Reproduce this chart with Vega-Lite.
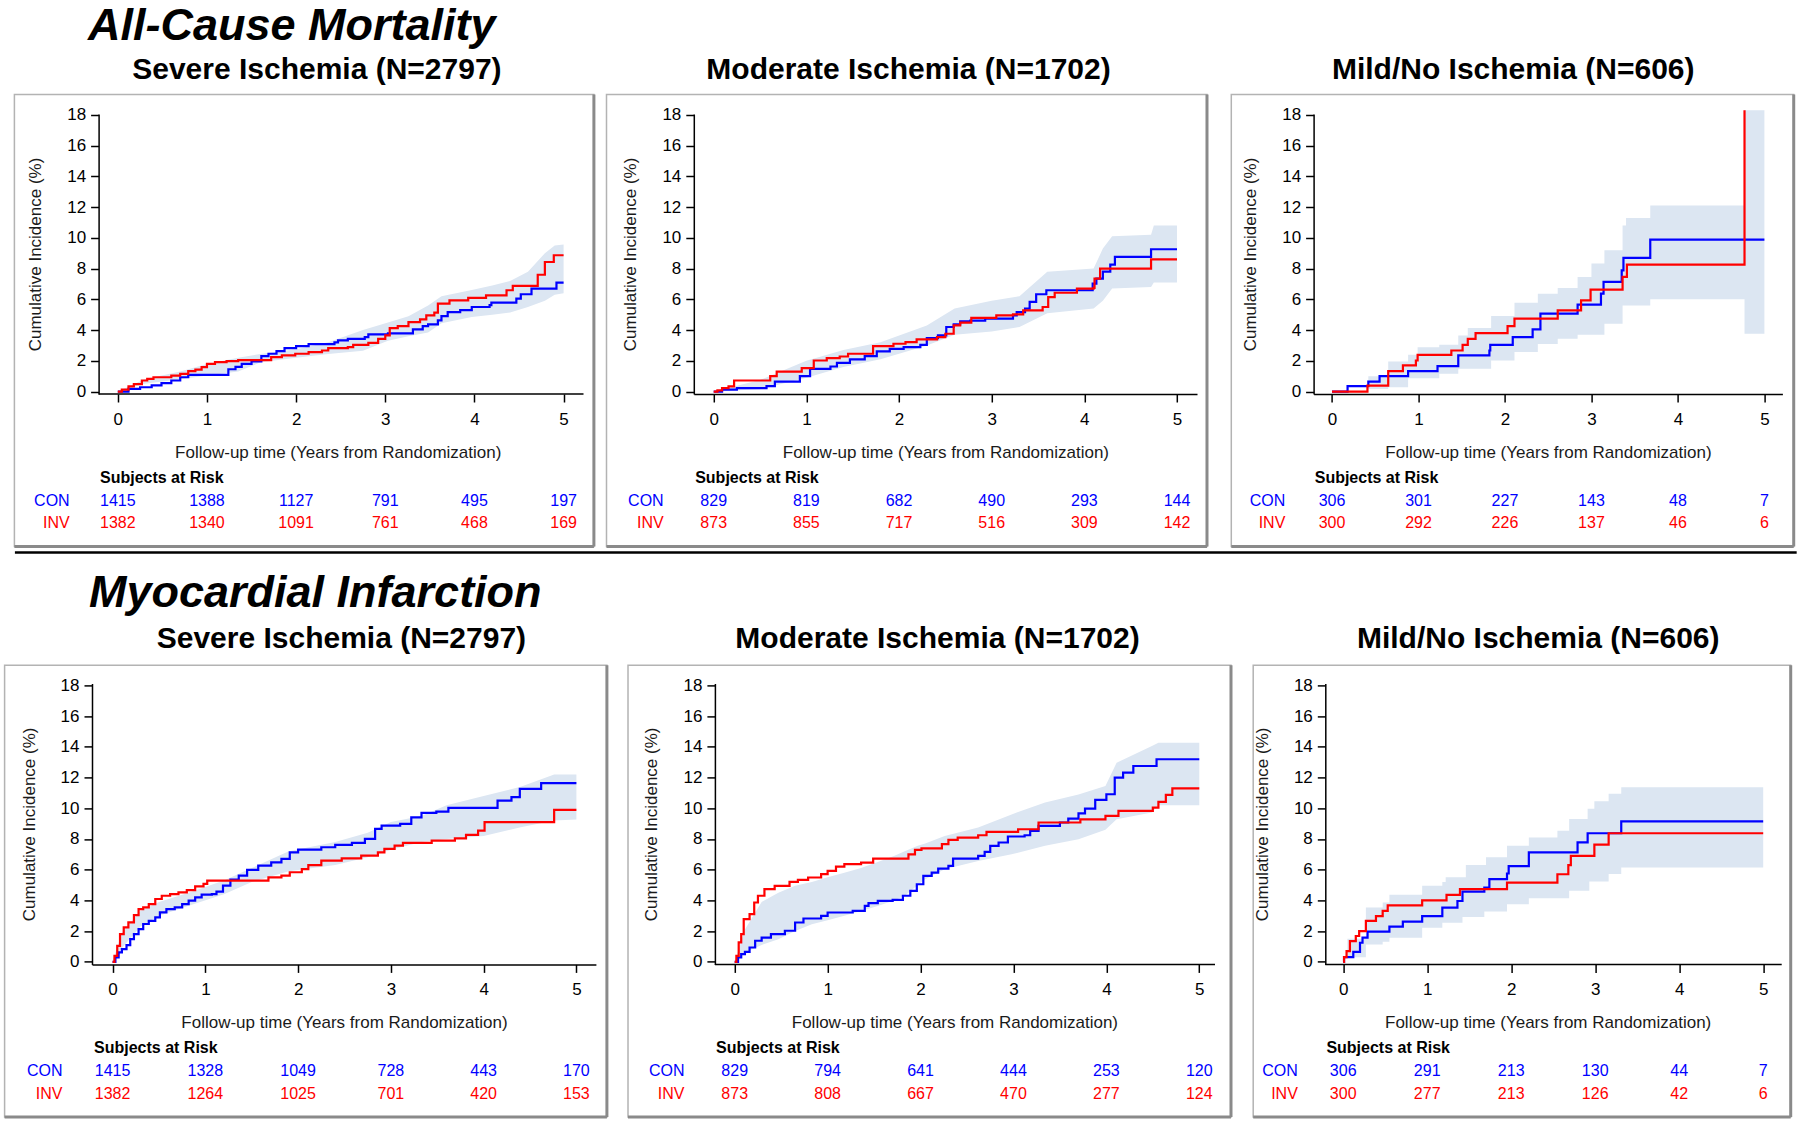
{
"$schema": "https://vega.github.io/schema/vega-lite/v6.json",
"background": "white",
"padding": {"left": 3, "top": 4, "right": 0, "bottom": 0},
"config": {
  "font": "Liberation Sans",
  "view": {"stroke": null},
  "axis": {"labelFont": "Liberation Sans", "labelFontSize": 17, "labelColor": "#000", "titleFont": "Liberation Sans", "titleFontSize": 17, "titleFontWeight": "normal", "titleColor": "#1a1a1a", "domainColor": "#000", "domainWidth": 1.5, "tickColor": "#000", "tickWidth": 1.5, "tickSize": 8, "grid": false, "labelFlush": false, "labelOverlap": false},
  "title": {"font": "Liberation Sans"},
  "text": {"font": "Liberation Sans"}
},
"datasets": {
"km": [
{"p":"A1","arm":"CON","t":0,"v":0},{"p":"A1","arm":"CON","t":0.12,"v":0.17},{"p":"A1","arm":"CON","t":0.25,"v":0.28},{"p":"A1","arm":"CON","t":0.38,"v":0.4},{"p":"A1","arm":"CON","t":0.49,"v":0.55},{"p":"A1","arm":"CON","t":0.6,"v":0.72},{"p":"A1","arm":"CON","t":0.7,"v":0.93},{"p":"A1","arm":"CON","t":0.79,"v":1.09},{"p":"A1","arm":"CON","t":1.24,"v":1.45},{"p":"A1","arm":"CON","t":1.32,"v":1.6},{"p":"A1","arm":"CON","t":1.39,"v":1.8},{"p":"A1","arm":"CON","t":1.5,"v":1.96},{"p":"A1","arm":"CON","t":1.61,"v":2.3},{"p":"A1","arm":"CON","t":1.69,"v":2.46},{"p":"A1","arm":"CON","t":1.78,"v":2.63},{"p":"A1","arm":"CON","t":1.87,"v":2.83},{"p":"A1","arm":"CON","t":2.0,"v":2.96},{"p":"A1","arm":"CON","t":2.14,"v":3.09},{"p":"A1","arm":"CON","t":2.43,"v":3.2},{"p":"A1","arm":"CON","t":2.47,"v":3.33},{"p":"A1","arm":"CON","t":2.58,"v":3.43},{"p":"A1","arm":"CON","t":2.77,"v":3.54},{"p":"A1","arm":"CON","t":2.81,"v":3.72},{"p":"A1","arm":"CON","t":3.03,"v":3.78},{"p":"A1","arm":"CON","t":3.31,"v":4.04},{"p":"A1","arm":"CON","t":3.42,"v":4.26},{"p":"A1","arm":"CON","t":3.48,"v":4.37},{"p":"A1","arm":"CON","t":3.59,"v":4.63},{"p":"A1","arm":"CON","t":3.63,"v":4.91},{"p":"A1","arm":"CON","t":3.7,"v":5.17},{"p":"A1","arm":"CON","t":3.84,"v":5.3},{"p":"A1","arm":"CON","t":3.97,"v":5.5},{"p":"A1","arm":"CON","t":4.17,"v":5.62},{"p":"A1","arm":"CON","t":4.19,"v":5.78},{"p":"A1","arm":"CON","t":4.47,"v":6.04},{"p":"A1","arm":"CON","t":4.52,"v":6.33},{"p":"A1","arm":"CON","t":4.64,"v":6.7},{"p":"A1","arm":"CON","t":4.92,"v":7.09},{"p":"A1","arm":"CON","t":5.0,"v":7.09},
{"p":"A1","arm":"INV","t":0,"v":0},{"p":"A1","arm":"INV","t":0.045,"v":0.13},{"p":"A1","arm":"INV","t":0.12,"v":0.33},{"p":"A1","arm":"INV","t":0.18,"v":0.48},{"p":"A1","arm":"INV","t":0.27,"v":0.72},{"p":"A1","arm":"INV","t":0.33,"v":0.83},{"p":"A1","arm":"INV","t":0.4,"v":0.93},{"p":"A1","arm":"INV","t":0.6,"v":1.04},{"p":"A1","arm":"INV","t":0.7,"v":1.15},{"p":"A1","arm":"INV","t":0.79,"v":1.33},{"p":"A1","arm":"INV","t":0.87,"v":1.43},{"p":"A1","arm":"INV","t":0.94,"v":1.59},{"p":"A1","arm":"INV","t":1.0,"v":1.8},{"p":"A1","arm":"INV","t":1.09,"v":1.91},{"p":"A1","arm":"INV","t":1.22,"v":1.98},{"p":"A1","arm":"INV","t":1.35,"v":2.05},{"p":"A1","arm":"INV","t":1.72,"v":2.24},{"p":"A1","arm":"INV","t":1.84,"v":2.35},{"p":"A1","arm":"INV","t":1.99,"v":2.46},{"p":"A1","arm":"INV","t":2.14,"v":2.57},{"p":"A1","arm":"INV","t":2.29,"v":2.67},{"p":"A1","arm":"INV","t":2.36,"v":2.83},{"p":"A1","arm":"INV","t":2.58,"v":2.89},{"p":"A1","arm":"INV","t":2.64,"v":3.04},{"p":"A1","arm":"INV","t":2.81,"v":3.17},{"p":"A1","arm":"INV","t":2.92,"v":3.43},{"p":"A1","arm":"INV","t":3.0,"v":3.65},{"p":"A1","arm":"INV","t":3.05,"v":4.13},{"p":"A1","arm":"INV","t":3.14,"v":4.26},{"p":"A1","arm":"INV","t":3.26,"v":4.52},{"p":"A1","arm":"INV","t":3.39,"v":4.7},{"p":"A1","arm":"INV","t":3.46,"v":4.96},{"p":"A1","arm":"INV","t":3.55,"v":5.13},{"p":"A1","arm":"INV","t":3.59,"v":5.72},{"p":"A1","arm":"INV","t":3.72,"v":5.93},{"p":"A1","arm":"INV","t":3.93,"v":6.09},{"p":"A1","arm":"INV","t":4.13,"v":6.26},{"p":"A1","arm":"INV","t":4.36,"v":6.59},{"p":"A1","arm":"INV","t":4.43,"v":6.87},{"p":"A1","arm":"INV","t":4.71,"v":7.6},{"p":"A1","arm":"INV","t":4.79,"v":8.43},{"p":"A1","arm":"INV","t":4.89,"v":8.87},{"p":"A1","arm":"INV","t":5.0,"v":8.87},
{"p":"A2","arm":"CON","t":0,"v":0},{"p":"A2","arm":"CON","t":0.09,"v":0.13},{"p":"A2","arm":"CON","t":0.25,"v":0.22},{"p":"A2","arm":"CON","t":0.57,"v":0.35},{"p":"A2","arm":"CON","t":0.66,"v":0.65},{"p":"A2","arm":"CON","t":0.93,"v":1.0},{"p":"A2","arm":"CON","t":1.04,"v":1.48},{"p":"A2","arm":"CON","t":1.26,"v":1.63},{"p":"A2","arm":"CON","t":1.33,"v":1.87},{"p":"A2","arm":"CON","t":1.47,"v":2.09},{"p":"A2","arm":"CON","t":1.63,"v":2.3},{"p":"A2","arm":"CON","t":1.76,"v":2.61},{"p":"A2","arm":"CON","t":1.9,"v":2.78},{"p":"A2","arm":"CON","t":2.05,"v":2.89},{"p":"A2","arm":"CON","t":2.23,"v":3.04},{"p":"A2","arm":"CON","t":2.3,"v":3.48},{"p":"A2","arm":"CON","t":2.42,"v":3.65},{"p":"A2","arm":"CON","t":2.51,"v":4.2},{"p":"A2","arm":"CON","t":2.59,"v":4.37},{"p":"A2","arm":"CON","t":2.66,"v":4.57},{"p":"A2","arm":"CON","t":2.77,"v":4.61},{"p":"A2","arm":"CON","t":2.93,"v":4.74},{"p":"A2","arm":"CON","t":3.23,"v":4.96},{"p":"A2","arm":"CON","t":3.27,"v":5.17},{"p":"A2","arm":"CON","t":3.36,"v":5.39},{"p":"A2","arm":"CON","t":3.41,"v":5.83},{"p":"A2","arm":"CON","t":3.48,"v":6.33},{"p":"A2","arm":"CON","t":3.59,"v":6.59},{"p":"A2","arm":"CON","t":4.09,"v":7.02},{"p":"A2","arm":"CON","t":4.13,"v":7.35},{"p":"A2","arm":"CON","t":4.2,"v":7.8},{"p":"A2","arm":"CON","t":4.28,"v":8.26},{"p":"A2","arm":"CON","t":4.33,"v":8.76},{"p":"A2","arm":"CON","t":4.72,"v":9.26},{"p":"A2","arm":"CON","t":5.0,"v":9.26},
{"p":"A2","arm":"INV","t":0,"v":0},{"p":"A2","arm":"INV","t":0.04,"v":0.07},{"p":"A2","arm":"INV","t":0.09,"v":0.22},{"p":"A2","arm":"INV","t":0.16,"v":0.33},{"p":"A2","arm":"INV","t":0.22,"v":0.72},{"p":"A2","arm":"INV","t":0.61,"v":1.0},{"p":"A2","arm":"INV","t":0.68,"v":1.3},{"p":"A2","arm":"INV","t":0.95,"v":1.52},{"p":"A2","arm":"INV","t":1.08,"v":2.02},{"p":"A2","arm":"INV","t":1.22,"v":2.17},{"p":"A2","arm":"INV","t":1.36,"v":2.28},{"p":"A2","arm":"INV","t":1.45,"v":2.46},{"p":"A2","arm":"INV","t":1.72,"v":2.96},{"p":"A2","arm":"INV","t":1.94,"v":3.11},{"p":"A2","arm":"INV","t":2.07,"v":3.22},{"p":"A2","arm":"INV","t":2.19,"v":3.39},{"p":"A2","arm":"INV","t":2.41,"v":3.54},{"p":"A2","arm":"INV","t":2.5,"v":3.76},{"p":"A2","arm":"INV","t":2.59,"v":4.3},{"p":"A2","arm":"INV","t":2.66,"v":4.48},{"p":"A2","arm":"INV","t":2.78,"v":4.8},{"p":"A2","arm":"INV","t":3.05,"v":4.96},{"p":"A2","arm":"INV","t":3.23,"v":5.02},{"p":"A2","arm":"INV","t":3.34,"v":5.28},{"p":"A2","arm":"INV","t":3.55,"v":5.5},{"p":"A2","arm":"INV","t":3.61,"v":6.15},{"p":"A2","arm":"INV","t":3.68,"v":6.43},{"p":"A2","arm":"INV","t":3.92,"v":6.7},{"p":"A2","arm":"INV","t":4.1,"v":6.74},{"p":"A2","arm":"INV","t":4.11,"v":7.35},{"p":"A2","arm":"INV","t":4.17,"v":8.0},{"p":"A2","arm":"INV","t":4.72,"v":8.6},{"p":"A2","arm":"INV","t":5.0,"v":8.6},
{"p":"A3","arm":"CON","t":0,"v":0},{"p":"A3","arm":"CON","t":0.18,"v":0.35},{"p":"A3","arm":"CON","t":0.42,"v":0.65},{"p":"A3","arm":"CON","t":0.55,"v":1.0},{"p":"A3","arm":"CON","t":0.88,"v":1.33},{"p":"A3","arm":"CON","t":1.22,"v":1.65},{"p":"A3","arm":"CON","t":1.46,"v":2.35},{"p":"A3","arm":"CON","t":1.82,"v":2.67},{"p":"A3","arm":"CON","t":1.83,"v":3.04},{"p":"A3","arm":"CON","t":2.09,"v":3.54},{"p":"A3","arm":"CON","t":2.32,"v":4.04},{"p":"A3","arm":"CON","t":2.41,"v":5.07},{"p":"A3","arm":"CON","t":2.84,"v":5.65},{"p":"A3","arm":"CON","t":3.11,"v":6.37},{"p":"A3","arm":"CON","t":3.14,"v":7.13},{"p":"A3","arm":"CON","t":3.35,"v":7.89},{"p":"A3","arm":"CON","t":3.37,"v":8.7},{"p":"A3","arm":"CON","t":3.68,"v":9.89},{"p":"A3","arm":"CON","t":5.0,"v":9.89},
{"p":"A3","arm":"INV","t":0,"v":0},{"p":"A3","arm":"INV","t":0.41,"v":0.39},{"p":"A3","arm":"INV","t":0.65,"v":1.33},{"p":"A3","arm":"INV","t":0.82,"v":1.7},{"p":"A3","arm":"INV","t":0.97,"v":2.02},{"p":"A3","arm":"INV","t":0.99,"v":2.39},{"p":"A3","arm":"INV","t":1.38,"v":2.67},{"p":"A3","arm":"INV","t":1.51,"v":3.04},{"p":"A3","arm":"INV","t":1.57,"v":3.43},{"p":"A3","arm":"INV","t":1.66,"v":3.8},{"p":"A3","arm":"INV","t":2.03,"v":4.26},{"p":"A3","arm":"INV","t":2.11,"v":4.74},{"p":"A3","arm":"INV","t":2.61,"v":5.28},{"p":"A3","arm":"INV","t":2.88,"v":5.93},{"p":"A3","arm":"INV","t":2.99,"v":6.63},{"p":"A3","arm":"INV","t":3.36,"v":7.46},{"p":"A3","arm":"INV","t":3.41,"v":8.26},{"p":"A3","arm":"INV","t":4.77,"v":18.3},
{"p":"B1","arm":"CON","t":0,"v":0},{"p":"B1","arm":"CON","t":0.03,"v":0.28},{"p":"B1","arm":"CON","t":0.065,"v":0.61},{"p":"B1","arm":"CON","t":0.1,"v":0.83},{"p":"B1","arm":"CON","t":0.15,"v":1.09},{"p":"B1","arm":"CON","t":0.19,"v":1.48},{"p":"B1","arm":"CON","t":0.23,"v":1.8},{"p":"B1","arm":"CON","t":0.28,"v":2.13},{"p":"B1","arm":"CON","t":0.33,"v":2.46},{"p":"B1","arm":"CON","t":0.39,"v":2.67},{"p":"B1","arm":"CON","t":0.46,"v":2.89},{"p":"B1","arm":"CON","t":0.51,"v":3.22},{"p":"B1","arm":"CON","t":0.58,"v":3.43},{"p":"B1","arm":"CON","t":0.67,"v":3.54},{"p":"B1","arm":"CON","t":0.75,"v":3.76},{"p":"B1","arm":"CON","t":0.82,"v":3.98},{"p":"B1","arm":"CON","t":0.89,"v":4.2},{"p":"B1","arm":"CON","t":0.96,"v":4.37},{"p":"B1","arm":"CON","t":1.07,"v":4.41},{"p":"B1","arm":"CON","t":1.12,"v":4.57},{"p":"B1","arm":"CON","t":1.19,"v":4.96},{"p":"B1","arm":"CON","t":1.27,"v":5.35},{"p":"B1","arm":"CON","t":1.36,"v":5.61},{"p":"B1","arm":"CON","t":1.45,"v":5.98},{"p":"B1","arm":"CON","t":1.57,"v":6.26},{"p":"B1","arm":"CON","t":1.71,"v":6.48},{"p":"B1","arm":"CON","t":1.82,"v":6.7},{"p":"B1","arm":"CON","t":1.91,"v":7.13},{"p":"B1","arm":"CON","t":2.0,"v":7.3},{"p":"B1","arm":"CON","t":2.25,"v":7.46},{"p":"B1","arm":"CON","t":2.4,"v":7.61},{"p":"B1","arm":"CON","t":2.58,"v":7.74},{"p":"B1","arm":"CON","t":2.72,"v":8.0},{"p":"B1","arm":"CON","t":2.83,"v":8.65},{"p":"B1","arm":"CON","t":2.9,"v":8.87},{"p":"B1","arm":"CON","t":3.1,"v":8.98},{"p":"B1","arm":"CON","t":3.22,"v":9.41},{"p":"B1","arm":"CON","t":3.33,"v":9.7},{"p":"B1","arm":"CON","t":3.49,"v":9.78},{"p":"B1","arm":"CON","t":3.62,"v":10.02},{"p":"B1","arm":"CON","t":4.15,"v":10.5},{"p":"B1","arm":"CON","t":4.3,"v":10.72},{"p":"B1","arm":"CON","t":4.39,"v":11.26},{"p":"B1","arm":"CON","t":4.62,"v":11.63},{"p":"B1","arm":"CON","t":5.0,"v":11.63},
{"p":"B1","arm":"INV","t":0,"v":0},{"p":"B1","arm":"INV","t":0.02,"v":0.39},{"p":"B1","arm":"INV","t":0.05,"v":1.04},{"p":"B1","arm":"INV","t":0.08,"v":1.8},{"p":"B1","arm":"INV","t":0.12,"v":2.24},{"p":"B1","arm":"INV","t":0.17,"v":2.57},{"p":"B1","arm":"INV","t":0.23,"v":3.04},{"p":"B1","arm":"INV","t":0.28,"v":3.43},{"p":"B1","arm":"INV","t":0.33,"v":3.54},{"p":"B1","arm":"INV","t":0.39,"v":3.76},{"p":"B1","arm":"INV","t":0.46,"v":4.09},{"p":"B1","arm":"INV","t":0.53,"v":4.3},{"p":"B1","arm":"INV","t":0.62,"v":4.41},{"p":"B1","arm":"INV","t":0.71,"v":4.52},{"p":"B1","arm":"INV","t":0.8,"v":4.67},{"p":"B1","arm":"INV","t":0.89,"v":4.91},{"p":"B1","arm":"INV","t":0.98,"v":5.07},{"p":"B1","arm":"INV","t":1.02,"v":5.28},{"p":"B1","arm":"INV","t":1.68,"v":5.5},{"p":"B1","arm":"INV","t":1.82,"v":5.61},{"p":"B1","arm":"INV","t":1.91,"v":5.83},{"p":"B1","arm":"INV","t":2.04,"v":6.04},{"p":"B1","arm":"INV","t":2.11,"v":6.3},{"p":"B1","arm":"INV","t":2.25,"v":6.59},{"p":"B1","arm":"INV","t":2.47,"v":6.74},{"p":"B1","arm":"INV","t":2.68,"v":6.91},{"p":"B1","arm":"INV","t":2.86,"v":7.13},{"p":"B1","arm":"INV","t":2.93,"v":7.35},{"p":"B1","arm":"INV","t":3.04,"v":7.57},{"p":"B1","arm":"INV","t":3.13,"v":7.74},{"p":"B1","arm":"INV","t":3.44,"v":7.89},{"p":"B1","arm":"INV","t":3.69,"v":8.04},{"p":"B1","arm":"INV","t":3.81,"v":8.26},{"p":"B1","arm":"INV","t":3.94,"v":8.54},{"p":"B1","arm":"INV","t":4.01,"v":9.09},{"p":"B1","arm":"INV","t":4.76,"v":9.89},{"p":"B1","arm":"INV","t":5.0,"v":9.89},
{"p":"B2","arm":"CON","t":0,"v":0},{"p":"B2","arm":"CON","t":0.036,"v":0.28},{"p":"B2","arm":"CON","t":0.07,"v":0.5},{"p":"B2","arm":"CON","t":0.11,"v":0.65},{"p":"B2","arm":"CON","t":0.16,"v":0.93},{"p":"B2","arm":"CON","t":0.22,"v":1.37},{"p":"B2","arm":"CON","t":0.29,"v":1.58},{"p":"B2","arm":"CON","t":0.39,"v":1.8},{"p":"B2","arm":"CON","t":0.54,"v":2.02},{"p":"B2","arm":"CON","t":0.65,"v":2.56},{"p":"B2","arm":"CON","t":0.74,"v":2.82},{"p":"B2","arm":"CON","t":0.93,"v":2.99},{"p":"B2","arm":"CON","t":1.0,"v":3.21},{"p":"B2","arm":"CON","t":1.27,"v":3.32},{"p":"B2","arm":"CON","t":1.4,"v":3.64},{"p":"B2","arm":"CON","t":1.44,"v":3.82},{"p":"B2","arm":"CON","t":1.54,"v":3.97},{"p":"B2","arm":"CON","t":1.7,"v":4.03},{"p":"B2","arm":"CON","t":1.81,"v":4.3},{"p":"B2","arm":"CON","t":1.89,"v":4.62},{"p":"B2","arm":"CON","t":1.96,"v":5.05},{"p":"B2","arm":"CON","t":2.03,"v":5.6},{"p":"B2","arm":"CON","t":2.12,"v":5.81},{"p":"B2","arm":"CON","t":2.19,"v":6.07},{"p":"B2","arm":"CON","t":2.3,"v":6.25},{"p":"B2","arm":"CON","t":2.35,"v":6.72},{"p":"B2","arm":"CON","t":2.62,"v":6.9},{"p":"B2","arm":"CON","t":2.69,"v":7.16},{"p":"B2","arm":"CON","t":2.75,"v":7.55},{"p":"B2","arm":"CON","t":2.84,"v":7.77},{"p":"B2","arm":"CON","t":2.94,"v":8.16},{"p":"B2","arm":"CON","t":3.12,"v":8.24},{"p":"B2","arm":"CON","t":3.18,"v":8.52},{"p":"B2","arm":"CON","t":3.27,"v":8.85},{"p":"B2","arm":"CON","t":3.5,"v":9.07},{"p":"B2","arm":"CON","t":3.59,"v":9.33},{"p":"B2","arm":"CON","t":3.7,"v":9.67},{"p":"B2","arm":"CON","t":3.77,"v":9.98},{"p":"B2","arm":"CON","t":3.88,"v":10.54},{"p":"B2","arm":"CON","t":4.0,"v":10.91},{"p":"B2","arm":"CON","t":4.09,"v":11.99},{"p":"B2","arm":"CON","t":4.18,"v":12.32},{"p":"B2","arm":"CON","t":4.29,"v":12.75},{"p":"B2","arm":"CON","t":4.54,"v":13.19},{"p":"B2","arm":"CON","t":5.0,"v":13.19},
{"p":"B2","arm":"INV","t":0,"v":0},{"p":"B2","arm":"INV","t":0.018,"v":0.39},{"p":"B2","arm":"INV","t":0.043,"v":1.26},{"p":"B2","arm":"INV","t":0.07,"v":1.8},{"p":"B2","arm":"INV","t":0.097,"v":2.78},{"p":"B2","arm":"INV","t":0.16,"v":3.1},{"p":"B2","arm":"INV","t":0.21,"v":3.86},{"p":"B2","arm":"INV","t":0.25,"v":4.3},{"p":"B2","arm":"INV","t":0.32,"v":4.73},{"p":"B2","arm":"INV","t":0.43,"v":4.95},{"p":"B2","arm":"INV","t":0.59,"v":5.21},{"p":"B2","arm":"INV","t":0.68,"v":5.34},{"p":"B2","arm":"INV","t":0.79,"v":5.49},{"p":"B2","arm":"INV","t":0.93,"v":5.71},{"p":"B2","arm":"INV","t":1.0,"v":5.92},{"p":"B2","arm":"INV","t":1.09,"v":6.2},{"p":"B2","arm":"INV","t":1.18,"v":6.36},{"p":"B2","arm":"INV","t":1.36,"v":6.46},{"p":"B2","arm":"INV","t":1.49,"v":6.72},{"p":"B2","arm":"INV","t":1.87,"v":7.0},{"p":"B2","arm":"INV","t":1.94,"v":7.29},{"p":"B2","arm":"INV","t":2.01,"v":7.38},{"p":"B2","arm":"INV","t":2.23,"v":7.66},{"p":"B2","arm":"INV","t":2.3,"v":7.94},{"p":"B2","arm":"INV","t":2.4,"v":8.09},{"p":"B2","arm":"INV","t":2.62,"v":8.24},{"p":"B2","arm":"INV","t":2.71,"v":8.46},{"p":"B2","arm":"INV","t":3.05,"v":8.63},{"p":"B2","arm":"INV","t":3.27,"v":9.07},{"p":"B2","arm":"INV","t":3.72,"v":9.28},{"p":"B2","arm":"INV","t":3.99,"v":9.5},{"p":"B2","arm":"INV","t":4.13,"v":9.83},{"p":"B2","arm":"INV","t":4.5,"v":10.04},{"p":"B2","arm":"INV","t":4.56,"v":10.41},{"p":"B2","arm":"INV","t":4.64,"v":10.87},{"p":"B2","arm":"INV","t":4.71,"v":11.3},{"p":"B2","arm":"INV","t":5.0,"v":11.3},
{"p":"B3","arm":"CON","t":0,"v":0},{"p":"B3","arm":"CON","t":0.01,"v":0.3},{"p":"B3","arm":"CON","t":0.12,"v":0.65},{"p":"B3","arm":"CON","t":0.2,"v":1.24},{"p":"B3","arm":"CON","t":0.23,"v":1.57},{"p":"B3","arm":"CON","t":0.29,"v":1.96},{"p":"B3","arm":"CON","t":0.55,"v":2.29},{"p":"B3","arm":"CON","t":0.71,"v":2.61},{"p":"B3","arm":"CON","t":0.94,"v":2.98},{"p":"B3","arm":"CON","t":1.18,"v":3.53},{"p":"B3","arm":"CON","t":1.36,"v":3.96},{"p":"B3","arm":"CON","t":1.42,"v":4.57},{"p":"B3","arm":"CON","t":1.68,"v":4.83},{"p":"B3","arm":"CON","t":1.74,"v":5.38},{"p":"B3","arm":"CON","t":1.95,"v":5.75},{"p":"B3","arm":"CON","t":1.97,"v":6.23},{"p":"B3","arm":"CON","t":2.21,"v":7.12},{"p":"B3","arm":"CON","t":2.79,"v":7.78},{"p":"B3","arm":"CON","t":2.91,"v":8.37},{"p":"B3","arm":"CON","t":3.31,"v":9.15},{"p":"B3","arm":"CON","t":5.0,"v":9.15},
{"p":"B3","arm":"INV","t":0,"v":0},{"p":"B3","arm":"INV","t":0.01,"v":0.3},{"p":"B3","arm":"INV","t":0.04,"v":0.7},{"p":"B3","arm":"INV","t":0.08,"v":1.35},{"p":"B3","arm":"INV","t":0.15,"v":1.68},{"p":"B3","arm":"INV","t":0.19,"v":2.0},{"p":"B3","arm":"INV","t":0.27,"v":2.66},{"p":"B3","arm":"INV","t":0.39,"v":2.98},{"p":"B3","arm":"INV","t":0.47,"v":3.31},{"p":"B3","arm":"INV","t":0.53,"v":3.68},{"p":"B3","arm":"INV","t":0.94,"v":4.0},{"p":"B3","arm":"INV","t":1.23,"v":4.36},{"p":"B3","arm":"INV","t":1.39,"v":4.73},{"p":"B3","arm":"INV","t":1.95,"v":5.16},{"p":"B3","arm":"INV","t":2.55,"v":5.7},{"p":"B3","arm":"INV","t":2.68,"v":6.3},{"p":"B3","arm":"INV","t":2.71,"v":6.9},{"p":"B3","arm":"INV","t":2.99,"v":7.63},{"p":"B3","arm":"INV","t":3.16,"v":8.37},{"p":"B3","arm":"INV","t":5.0,"v":8.37}
],
"band": [
{"p":"A1","t":0,"lo":0,"hi":0},{"p":"A1","t":0.3,"lo":0.5,"hi":0.8},{"p":"A1","t":0.7,"lo":0.8,"hi":1.3},{"p":"A1","t":1.0,"lo":1.05,"hi":1.8},{"p":"A1","t":1.35,"lo":1.3,"hi":2.2},{"p":"A1","t":1.6,"lo":1.9,"hi":2.45},{"p":"A1","t":2.0,"lo":2.2,"hi":2.75},{"p":"A1","t":2.36,"lo":2.45,"hi":3.2},{"p":"A1","t":2.75,"lo":2.65,"hi":4.0},{"p":"A1","t":3.03,"lo":3.3,"hi":4.5},{"p":"A1","t":3.26,"lo":3.6,"hi":4.9},{"p":"A1","t":3.48,"lo":3.85,"hi":5.6},{"p":"A1","t":3.63,"lo":4.45,"hi":6.2},{"p":"A1","t":3.97,"lo":4.85,"hi":6.6},{"p":"A1","t":4.2,"lo":5.0,"hi":6.9},{"p":"A1","t":4.4,"lo":5.15,"hi":7.2},{"p":"A1","t":4.6,"lo":5.5,"hi":7.8},{"p":"A1","t":4.79,"lo":5.9,"hi":9.0},{"p":"A1","t":4.9,"lo":6.3,"hi":9.5},{"p":"A1","t":5.0,"lo":6.4,"hi":9.57},
{"p":"A2","t":0,"lo":0,"hi":0},{"p":"A2","t":0.5,"lo":0.15,"hi":0.75},{"p":"A2","t":1.0,"lo":0.9,"hi":2.0},{"p":"A2","t":1.4,"lo":1.6,"hi":2.7},{"p":"A2","t":1.8,"lo":2.1,"hi":3.2},{"p":"A2","t":2.3,"lo":3.0,"hi":4.3},{"p":"A2","t":2.6,"lo":3.7,"hi":5.4},{"p":"A2","t":3.0,"lo":3.9,"hi":5.9},{"p":"A2","t":3.3,"lo":4.2,"hi":6.2},{"p":"A2","t":3.6,"lo":5.1,"hi":7.8},{"p":"A2","t":4.1,"lo":5.4,"hi":8.0},{"p":"A2","t":4.2,"lo":5.9,"hi":9.3},{"p":"A2","t":4.3,"lo":6.7,"hi":10.1},{"p":"A2","t":4.72,"lo":6.8,"hi":10.2},{"p":"A2","t":4.75,"lo":7.1,"hi":10.8},{"p":"A2","t":5.0,"lo":7.1,"hi":10.8},
{"p":"A3","t":0,"lo":0,"hi":0},{"p":"A3","t":0.42,"lo":0.17,"hi":1.0},{"p":"A3","t":0.65,"lo":0.28,"hi":1.96},{"p":"A3","t":0.88,"lo":0.87,"hi":2.39},{"p":"A3","t":0.99,"lo":0.87,"hi":2.89},{"p":"A3","t":1.24,"lo":1.15,"hi":3.04},{"p":"A3","t":1.46,"lo":1.48,"hi":3.65},{"p":"A3","t":1.57,"lo":1.48,"hi":4.13},{"p":"A3","t":1.84,"lo":2.02,"hi":4.91},{"p":"A3","t":2.11,"lo":2.57,"hi":5.78},{"p":"A3","t":2.38,"lo":3.1,"hi":6.37},{"p":"A3","t":2.61,"lo":3.43,"hi":6.74},{"p":"A3","t":2.84,"lo":3.7,"hi":7.46},{"p":"A3","t":3.0,"lo":3.7,"hi":8.33},{"p":"A3","t":3.15,"lo":4.41,"hi":9.2},{"p":"A3","t":3.36,"lo":5.6,"hi":10.8},{"p":"A3","t":3.4,"lo":5.6,"hi":11.3},{"p":"A3","t":3.68,"lo":6.0,"hi":12.1},{"p":"A3","t":4.77,"lo":3.76,"hi":18.3},{"p":"A3","t":5.0,"lo":3.76,"hi":18.3},
{"p":"B1","t":0,"lo":0,"hi":0},{"p":"B1","t":0.1,"lo":0.9,"hi":1.9},{"p":"B1","t":0.3,"lo":2.3,"hi":3.3},{"p":"B1","t":0.5,"lo":3.0,"hi":3.9},{"p":"B1","t":0.82,"lo":3.65,"hi":4.5},{"p":"B1","t":1.2,"lo":4.4,"hi":5.3},{"p":"B1","t":1.5,"lo":5.2,"hi":6.1},{"p":"B1","t":1.9,"lo":5.9,"hi":7.2},{"p":"B1","t":2.4,"lo":6.3,"hi":7.8},{"p":"B1","t":2.75,"lo":6.8,"hi":8.4},{"p":"B1","t":3.0,"lo":7.3,"hi":9.1},{"p":"B1","t":3.33,"lo":7.8,"hi":9.5},{"p":"B1","t":3.6,"lo":8.0,"hi":10.2},{"p":"B1","t":4.0,"lo":8.2,"hi":10.8},{"p":"B1","t":4.4,"lo":8.76,"hi":11.4},{"p":"B1","t":4.76,"lo":9.2,"hi":12.2},{"p":"B1","t":5.0,"lo":9.26,"hi":12.2},
{"p":"B2","t":0,"lo":0,"hi":0},{"p":"B2","t":0.11,"lo":0.6,"hi":2.1},{"p":"B2","t":0.29,"lo":1.1,"hi":3.9},{"p":"B2","t":0.47,"lo":1.47,"hi":4.5},{"p":"B2","t":0.65,"lo":2.0,"hi":4.95},{"p":"B2","t":0.83,"lo":2.45,"hi":5.2},{"p":"B2","t":1.0,"lo":2.7,"hi":5.5},{"p":"B2","t":1.18,"lo":3.0,"hi":5.8},{"p":"B2","t":1.36,"lo":3.3,"hi":6.1},{"p":"B2","t":1.54,"lo":3.64,"hi":6.5},{"p":"B2","t":1.72,"lo":4.0,"hi":6.9},{"p":"B2","t":1.83,"lo":4.3,"hi":7.2},{"p":"B2","t":1.97,"lo":5.0,"hi":7.55},{"p":"B2","t":2.05,"lo":5.38,"hi":7.7},{"p":"B2","t":2.26,"lo":6.03,"hi":8.2},{"p":"B2","t":2.62,"lo":6.57,"hi":8.74},{"p":"B2","t":2.98,"lo":7.0,"hi":9.6},{"p":"B2","t":3.34,"lo":7.55,"hi":10.37},{"p":"B2","t":3.7,"lo":7.98,"hi":10.9},{"p":"B2","t":3.99,"lo":8.6,"hi":11.45},{"p":"B2","t":4.11,"lo":9.28,"hi":12.97},{"p":"B2","t":4.49,"lo":9.72,"hi":14.06},{"p":"B2","t":4.56,"lo":10.2,"hi":14.27},{"p":"B2","t":5.0,"lo":10.2,"hi":14.27},
{"p":"B3","t":0,"lo":0,"hi":0},{"p":"B3","t":0.05,"lo":0.3,"hi":1.5},{"p":"B3","t":0.27,"lo":1.13,"hi":3.53},{"p":"B3","t":0.47,"lo":1.3,"hi":3.86},{"p":"B3","t":0.55,"lo":1.57,"hi":4.36},{"p":"B3","t":0.94,"lo":2.22,"hi":4.95},{"p":"B3","t":1.18,"lo":2.55,"hi":5.2},{"p":"B3","t":1.22,"lo":2.55,"hi":5.5},{"p":"B3","t":1.42,"lo":2.92,"hi":5.5},{"p":"B3","t":1.46,"lo":2.92,"hi":6.3},{"p":"B3","t":1.68,"lo":3.27,"hi":6.3},{"p":"B3","t":1.7,"lo":3.27,"hi":6.8},{"p":"B3","t":1.95,"lo":3.75,"hi":7.56},{"p":"B3","t":2.21,"lo":4.14,"hi":8.1},{"p":"B3","t":2.55,"lo":4.14,"hi":8.54},{"p":"B3","t":2.69,"lo":4.62,"hi":9.3},{"p":"B3","t":2.91,"lo":4.62,"hi":9.96},{"p":"B3","t":2.93,"lo":5.23,"hi":9.96},{"p":"B3","t":2.99,"lo":5.23,"hi":10.46},{"p":"B3","t":3.16,"lo":5.71,"hi":10.94},{"p":"B3","t":3.31,"lo":6.14,"hi":11.37},{"p":"B3","t":5.0,"lo":6.14,"hi":11.37}
],
"risk": [
{"p":"A1","arm":"CON","t":0,"n":1415},{"p":"A1","arm":"CON","t":1,"n":1388},{"p":"A1","arm":"CON","t":2,"n":1127},{"p":"A1","arm":"CON","t":3,"n":791},{"p":"A1","arm":"CON","t":4,"n":495},{"p":"A1","arm":"CON","t":5,"n":197},
{"p":"A1","arm":"INV","t":0,"n":1382},{"p":"A1","arm":"INV","t":1,"n":1340},{"p":"A1","arm":"INV","t":2,"n":1091},{"p":"A1","arm":"INV","t":3,"n":761},{"p":"A1","arm":"INV","t":4,"n":468},{"p":"A1","arm":"INV","t":5,"n":169},
{"p":"A2","arm":"CON","t":0,"n":829},{"p":"A2","arm":"CON","t":1,"n":819},{"p":"A2","arm":"CON","t":2,"n":682},{"p":"A2","arm":"CON","t":3,"n":490},{"p":"A2","arm":"CON","t":4,"n":293},{"p":"A2","arm":"CON","t":5,"n":144},
{"p":"A2","arm":"INV","t":0,"n":873},{"p":"A2","arm":"INV","t":1,"n":855},{"p":"A2","arm":"INV","t":2,"n":717},{"p":"A2","arm":"INV","t":3,"n":516},{"p":"A2","arm":"INV","t":4,"n":309},{"p":"A2","arm":"INV","t":5,"n":142},
{"p":"A3","arm":"CON","t":0,"n":306},{"p":"A3","arm":"CON","t":1,"n":301},{"p":"A3","arm":"CON","t":2,"n":227},{"p":"A3","arm":"CON","t":3,"n":143},{"p":"A3","arm":"CON","t":4,"n":48},{"p":"A3","arm":"CON","t":5,"n":7},
{"p":"A3","arm":"INV","t":0,"n":300},{"p":"A3","arm":"INV","t":1,"n":292},{"p":"A3","arm":"INV","t":2,"n":226},{"p":"A3","arm":"INV","t":3,"n":137},{"p":"A3","arm":"INV","t":4,"n":46},{"p":"A3","arm":"INV","t":5,"n":6},
{"p":"B1","arm":"CON","t":0,"n":1415},{"p":"B1","arm":"CON","t":1,"n":1328},{"p":"B1","arm":"CON","t":2,"n":1049},{"p":"B1","arm":"CON","t":3,"n":728},{"p":"B1","arm":"CON","t":4,"n":443},{"p":"B1","arm":"CON","t":5,"n":170},
{"p":"B1","arm":"INV","t":0,"n":1382},{"p":"B1","arm":"INV","t":1,"n":1264},{"p":"B1","arm":"INV","t":2,"n":1025},{"p":"B1","arm":"INV","t":3,"n":701},{"p":"B1","arm":"INV","t":4,"n":420},{"p":"B1","arm":"INV","t":5,"n":153},
{"p":"B2","arm":"CON","t":0,"n":829},{"p":"B2","arm":"CON","t":1,"n":794},{"p":"B2","arm":"CON","t":2,"n":641},{"p":"B2","arm":"CON","t":3,"n":444},{"p":"B2","arm":"CON","t":4,"n":253},{"p":"B2","arm":"CON","t":5,"n":120},
{"p":"B2","arm":"INV","t":0,"n":873},{"p":"B2","arm":"INV","t":1,"n":808},{"p":"B2","arm":"INV","t":2,"n":667},{"p":"B2","arm":"INV","t":3,"n":470},{"p":"B2","arm":"INV","t":4,"n":277},{"p":"B2","arm":"INV","t":5,"n":124},
{"p":"B3","arm":"CON","t":0,"n":306},{"p":"B3","arm":"CON","t":1,"n":291},{"p":"B3","arm":"CON","t":2,"n":213},{"p":"B3","arm":"CON","t":3,"n":130},{"p":"B3","arm":"CON","t":4,"n":44},{"p":"B3","arm":"CON","t":5,"n":7},
{"p":"B3","arm":"INV","t":0,"n":300},{"p":"B3","arm":"INV","t":1,"n":277},{"p":"B3","arm":"INV","t":2,"n":213},{"p":"B3","arm":"INV","t":3,"n":126},{"p":"B3","arm":"INV","t":4,"n":42},{"p":"B3","arm":"INV","t":5,"n":6}
]
},
"concat": [
{
 "width": 491.5, "height": 280,
 "title": {"text": "All-Cause Mortality", "anchor": "start", "frame": "group", "dx": -4, "offset": -30.5, "fontSize": 45, "fontStyle": "italic", "fontWeight": "bold", "color": "#000", "baseline": "alphabetic"},
 "resolve": {"axis": {"x": "independent", "y": "independent"}},
 "layer": [
  {"data": {"name": "risk"}, "transform": [{"filter": "datum.p == 'A1' && datum.arm == 'CON' && datum.t == 0"}], "mark": {"type": "rect", "fillOpacity": 0, "stroke": "#b3b3b3", "strokeWidth": 1.5}, "encoding": {"x": {"datum": -1.1597, "axis": null}, "x2": {"datum": 5.3398}, "y": {"datum": 19.335, "axis": null}, "y2": {"datum": -10.076}}},
  {"data": {"name": "risk"}, "transform": [{"filter": "datum.p == 'A1' && datum.arm == 'CON' && datum.t == 0"}], "mark": {"type": "rule", "color": "#8a8a8a", "strokeWidth": 3}, "encoding": {"x": {"datum": 5.3398, "axis": null}, "y": {"datum": 19.335, "axis": null}, "y2": {"datum": -10.076}}},
  {"data": {"name": "risk"}, "transform": [{"filter": "datum.p == 'A1' && datum.arm == 'CON' && datum.t == 0"}], "mark": {"type": "rule", "color": "#8a8a8a", "strokeWidth": 3}, "encoding": {"x": {"datum": -1.1597, "axis": null}, "x2": {"datum": 5.3398}, "y": {"datum": -10.076, "axis": null}}},
  {"data": {"name": "risk"}, "transform": [{"filter": "datum.p == 'A1' && datum.arm == 'CON' && datum.t == 0"}], "mark": {"type": "rule", "color": "#000", "strokeWidth": 2.5}, "encoding": {"x": {"datum": -1.154, "axis": null}, "x2": {"datum": 18.83}, "y": {"datum": -10.47, "axis": null}}},
  {"data": {"name": "band"}, "transform": [{"filter": "datum.p == 'A1'"}], "mark": {"type": "area", "interpolate": "linear", "color": "#dce6f2"},
   "encoding": {"x": {"field": "t", "type": "quantitative", "scale": {"domain": [-0.2894, 5.2232], "nice": false, "zero": false}, "axis": {"orient": "top", "title": "Severe Ischemia (N=2797)", "labels": false, "ticks": false, "domain": false, "titleX": 224.4, "titleY": -35.5, "titleAlign": "center", "titleBaseline": "alphabetic", "titleFontSize": 30, "titleFontWeight": "bold", "titleColor": "#000"}},
    "y": {"field": "lo", "type": "quantitative", "scale": {"domain": [-0.16, 18.06], "nice": false, "zero": false}, "axis": null}, "y2": {"field": "hi"}}},
  {"data": {"name": "risk"}, "transform": [{"filter": "datum.p == 'A1' && datum.arm == 'CON' && datum.t == 0"}], "mark": {"type": "rule", "color": "#000", "strokeWidth": 1.5}, "encoding": {"x": {"datum": -0.2153, "axis": null}, "x2": {"datum": 5.2232}, "y": {"datum": -0.16, "axis": null}}},
  {"data": {"name": "km"}, "transform": [{"filter": "datum.p == 'A1'"}], "mark": {"type": "line", "interpolate": "step-after", "strokeWidth": 2.2},
   "encoding": {"x": {"field": "t", "type": "quantitative", "axis": {"orient": "bottom", "title": "Follow-up time (Years from Randomization)", "values": [0,1,2,3,4,5], "domain": false, "labelPadding": 9, "titlePadding": 17}},
    "y": {"field": "v", "type": "quantitative", "axis": {"orient": "left", "title": "Cumulative Incidence (%)", "values": [0,2,4,6,8,10,12,14,16,18], "offset": -6.6, "labelPadding": 5, "titlePadding": 22}},
    "color": {"field": "arm", "type": "nominal", "scale": {"domain": ["CON","INV"], "range": ["#0000ff","#ff0000"]}, "legend": null}}},
  {"data": {"name": "risk"}, "transform": [{"filter": "datum.p == 'A1' && datum.arm == 'CON' && datum.t == 0"}], "mark": {"type": "text", "text": "Subjects at Risk", "align": "left", "baseline": "middle", "fontSize": 16, "fontWeight": "bold", "color": "#000"}, "encoding": {"x": {"datum": -0.2, "axis": null}, "y": {"datum": -5.65, "axis": null}}},
  {"data": {"name": "risk"}, "transform": [{"filter": "datum.p == 'A1' && datum.arm == 'CON'"}], "mark": {"type": "text", "align": "center", "baseline": "middle", "fontSize": 16, "color": "#0000ff"}, "encoding": {"x": {"field": "t", "type": "quantitative", "axis": null}, "y": {"datum": -7.15, "axis": null}, "text": {"field": "n", "type": "quantitative", "format": "d"}}},
  {"data": {"name": "risk"}, "transform": [{"filter": "datum.p == 'A1' && datum.arm == 'INV'"}], "mark": {"type": "text", "align": "center", "baseline": "middle", "fontSize": 16, "color": "#ff0000"}, "encoding": {"x": {"field": "t", "type": "quantitative", "axis": null}, "y": {"datum": -8.58, "axis": null}, "text": {"field": "n", "type": "quantitative", "format": "d"}}},
  {"data": {"name": "risk"}, "transform": [{"filter": "datum.p == 'A1' && datum.arm == 'CON' && datum.t == 0"}], "mark": {"type": "text", "align": "right", "baseline": "middle", "fontSize": 16, "color": "#0000ff"}, "encoding": {"x": {"datum": -0.54, "axis": null}, "y": {"datum": -7.15, "axis": null}, "text": {"field": "arm"}}},
  {"data": {"name": "risk"}, "transform": [{"filter": "datum.p == 'A1' && datum.arm == 'INV' && datum.t == 0"}], "mark": {"type": "text", "align": "right", "baseline": "middle", "fontSize": 16, "color": "#ff0000"}, "encoding": {"x": {"datum": -0.54, "axis": null}, "y": {"datum": -8.58, "axis": null}, "text": {"field": "arm"}}}
 ]
},
{
 "width": 503.2, "height": 280,
 "resolve": {"axis": {"x": "independent", "y": "independent"}},
 "layer": [
  {"data": {"name": "risk"}, "transform": [{"filter": "datum.p == 'A2' && datum.arm == 'CON' && datum.t == 0"}], "mark": {"type": "rect", "fillOpacity": 0, "stroke": "#b3b3b3", "strokeWidth": 1.5}, "encoding": {"x": {"datum": -1.157, "axis": null}, "x2": {"datum": 5.3237}, "y": {"datum": 19.335, "axis": null}, "y2": {"datum": -10.076}}},
  {"data": {"name": "risk"}, "transform": [{"filter": "datum.p == 'A2' && datum.arm == 'CON' && datum.t == 0"}], "mark": {"type": "rule", "color": "#8a8a8a", "strokeWidth": 3}, "encoding": {"x": {"datum": 5.3237, "axis": null}, "y": {"datum": 19.335, "axis": null}, "y2": {"datum": -10.076}}},
  {"data": {"name": "risk"}, "transform": [{"filter": "datum.p == 'A2' && datum.arm == 'CON' && datum.t == 0"}], "mark": {"type": "rule", "color": "#8a8a8a", "strokeWidth": 3}, "encoding": {"x": {"datum": -1.157, "axis": null}, "x2": {"datum": 5.3237}, "y": {"datum": -10.076, "axis": null}}},
  {"data": {"name": "band"}, "transform": [{"filter": "datum.p == 'A2'"}], "mark": {"type": "area", "interpolate": "linear", "color": "#dce6f2"},
   "encoding": {"x": {"field": "t", "type": "quantitative", "scale": {"domain": [-0.2148, 5.2159], "nice": false, "zero": false}, "axis": {"orient": "top", "title": "Moderate Ischemia (N=1702)", "labels": false, "ticks": false, "domain": false, "titleX": 214.2, "titleY": -35.5, "titleAlign": "center", "titleBaseline": "alphabetic", "titleFontSize": 30, "titleFontWeight": "bold", "titleColor": "#000"}},
    "y": {"field": "lo", "type": "quantitative", "scale": {"domain": [-0.16, 18.06], "nice": false, "zero": false}, "axis": null}, "y2": {"field": "hi"}}},
  {"data": {"name": "km"}, "transform": [{"filter": "datum.p == 'A2'"}], "mark": {"type": "line", "interpolate": "step-after", "strokeWidth": 2.2},
   "encoding": {"x": {"field": "t", "type": "quantitative", "axis": {"orient": "bottom", "title": "Follow-up time (Years from Randomization)", "values": [0,1,2,3,4,5], "labelPadding": 9, "titlePadding": 17}},
    "y": {"field": "v", "type": "quantitative", "axis": {"orient": "left", "title": "Cumulative Incidence (%)", "values": [0,2,4,6,8,10,12,14,16,18], "labelPadding": 5, "titlePadding": 22}},
    "color": {"field": "arm", "type": "nominal", "scale": {"domain": ["CON","INV"], "range": ["#0000ff","#ff0000"]}, "legend": null}}},
  {"data": {"name": "risk"}, "transform": [{"filter": "datum.p == 'A2' && datum.arm == 'CON' && datum.t == 0"}], "mark": {"type": "text", "text": "Subjects at Risk", "align": "left", "baseline": "middle", "fontSize": 16, "fontWeight": "bold", "color": "#000"}, "encoding": {"x": {"datum": -0.2, "axis": null}, "y": {"datum": -5.65, "axis": null}}},
  {"data": {"name": "risk"}, "transform": [{"filter": "datum.p == 'A2' && datum.arm == 'CON'"}], "mark": {"type": "text", "align": "center", "baseline": "middle", "fontSize": 16, "color": "#0000ff"}, "encoding": {"x": {"field": "t", "type": "quantitative", "axis": null}, "y": {"datum": -7.15, "axis": null}, "text": {"field": "n", "type": "quantitative", "format": "d"}}},
  {"data": {"name": "risk"}, "transform": [{"filter": "datum.p == 'A2' && datum.arm == 'INV'"}], "mark": {"type": "text", "align": "center", "baseline": "middle", "fontSize": 16, "color": "#ff0000"}, "encoding": {"x": {"field": "t", "type": "quantitative", "axis": null}, "y": {"datum": -8.58, "axis": null}, "text": {"field": "n", "type": "quantitative", "format": "d"}}},
  {"data": {"name": "risk"}, "transform": [{"filter": "datum.p == 'A2' && datum.arm == 'CON' && datum.t == 0"}], "mark": {"type": "text", "align": "right", "baseline": "middle", "fontSize": 16, "color": "#0000ff"}, "encoding": {"x": {"datum": -0.54, "axis": null}, "y": {"datum": -7.15, "axis": null}, "text": {"field": "arm"}}},
  {"data": {"name": "risk"}, "transform": [{"filter": "datum.p == 'A2' && datum.arm == 'INV' && datum.t == 0"}], "mark": {"type": "text", "align": "right", "baseline": "middle", "fontSize": 16, "color": "#ff0000"}, "encoding": {"x": {"datum": -0.54, "axis": null}, "y": {"datum": -8.58, "axis": null}, "text": {"field": "arm"}}}
 ]
},
{
 "width": 468.8, "height": 280,
 "resolve": {"axis": {"x": "independent", "y": "independent"}},
 "layer": [
  {"data": {"name": "risk"}, "transform": [{"filter": "datum.p == 'A3' && datum.arm == 'CON' && datum.t == 0"}], "mark": {"type": "rect", "fillOpacity": 0, "stroke": "#b3b3b3", "strokeWidth": 1.5}, "encoding": {"x": {"datum": -1.1645, "axis": null}, "x2": {"datum": 5.3388}, "y": {"datum": 19.335, "axis": null}, "y2": {"datum": -10.076}}},
  {"data": {"name": "risk"}, "transform": [{"filter": "datum.p == 'A3' && datum.arm == 'CON' && datum.t == 0"}], "mark": {"type": "rule", "color": "#8a8a8a", "strokeWidth": 3}, "encoding": {"x": {"datum": 5.3388, "axis": null}, "y": {"datum": 19.335, "axis": null}, "y2": {"datum": -10.076}}},
  {"data": {"name": "risk"}, "transform": [{"filter": "datum.p == 'A3' && datum.arm == 'CON' && datum.t == 0"}], "mark": {"type": "rule", "color": "#8a8a8a", "strokeWidth": 3}, "encoding": {"x": {"datum": -1.1645, "axis": null}, "x2": {"datum": 5.3388}, "y": {"datum": -10.076, "axis": null}}},
  {"data": {"name": "band"}, "transform": [{"filter": "datum.p == 'A3'"}], "mark": {"type": "area", "interpolate": "step-after", "color": "#dce6f2"},
   "encoding": {"x": {"field": "t", "type": "quantitative", "scale": {"domain": [-0.2128, 5.208], "nice": false, "zero": false}, "axis": {"orient": "top", "title": "Mild/No Ischemia (N=606)", "labels": false, "ticks": false, "domain": false, "titleX": 199.1, "titleY": -35.5, "titleAlign": "center", "titleBaseline": "alphabetic", "titleFontSize": 30, "titleFontWeight": "bold", "titleColor": "#000"}},
    "y": {"field": "lo", "type": "quantitative", "scale": {"domain": [-0.16, 18.06], "nice": false, "zero": false}, "axis": null}, "y2": {"field": "hi"}}},
  {"data": {"name": "km"}, "transform": [{"filter": "datum.p == 'A3'"}], "mark": {"type": "line", "interpolate": "step-after", "strokeWidth": 2.2},
   "encoding": {"x": {"field": "t", "type": "quantitative", "axis": {"orient": "bottom", "title": "Follow-up time (Years from Randomization)", "values": [0,1,2,3,4,5], "labelPadding": 9, "titlePadding": 17}},
    "y": {"field": "v", "type": "quantitative", "axis": {"orient": "left", "title": "Cumulative Incidence (%)", "values": [0,2,4,6,8,10,12,14,16,18], "labelPadding": 5, "titlePadding": 22}},
    "color": {"field": "arm", "type": "nominal", "scale": {"domain": ["CON","INV"], "range": ["#0000ff","#ff0000"]}, "legend": null}}},
  {"data": {"name": "risk"}, "transform": [{"filter": "datum.p == 'A3' && datum.arm == 'CON' && datum.t == 0"}], "mark": {"type": "text", "text": "Subjects at Risk", "align": "left", "baseline": "middle", "fontSize": 16, "fontWeight": "bold", "color": "#000"}, "encoding": {"x": {"datum": -0.2, "axis": null}, "y": {"datum": -5.65, "axis": null}}},
  {"data": {"name": "risk"}, "transform": [{"filter": "datum.p == 'A3' && datum.arm == 'CON'"}], "mark": {"type": "text", "align": "center", "baseline": "middle", "fontSize": 16, "color": "#0000ff"}, "encoding": {"x": {"field": "t", "type": "quantitative", "axis": null}, "y": {"datum": -7.15, "axis": null}, "text": {"field": "n", "type": "quantitative", "format": "d"}}},
  {"data": {"name": "risk"}, "transform": [{"filter": "datum.p == 'A3' && datum.arm == 'INV'"}], "mark": {"type": "text", "align": "center", "baseline": "middle", "fontSize": 16, "color": "#ff0000"}, "encoding": {"x": {"field": "t", "type": "quantitative", "axis": null}, "y": {"datum": -8.58, "axis": null}, "text": {"field": "n", "type": "quantitative", "format": "d"}}},
  {"data": {"name": "risk"}, "transform": [{"filter": "datum.p == 'A3' && datum.arm == 'CON' && datum.t == 0"}], "mark": {"type": "text", "align": "right", "baseline": "middle", "fontSize": 16, "color": "#0000ff"}, "encoding": {"x": {"datum": -0.54, "axis": null}, "y": {"datum": -7.15, "axis": null}, "text": {"field": "arm"}}},
  {"data": {"name": "risk"}, "transform": [{"filter": "datum.p == 'A3' && datum.arm == 'INV' && datum.t == 0"}], "mark": {"type": "text", "align": "right", "baseline": "middle", "fontSize": 16, "color": "#ff0000"}, "encoding": {"x": {"datum": -0.54, "axis": null}, "y": {"datum": -8.58, "axis": null}, "text": {"field": "arm"}}}
 ]
},
{
 "width": 503.9, "height": 281,
 "title": {"text": "Myocardial Infarction", "anchor": "start", "frame": "group", "dx": -3, "offset": -28, "fontSize": 45, "fontStyle": "italic", "fontWeight": "bold", "color": "#000", "baseline": "alphabetic"},
 "resolve": {"axis": {"x": "independent", "y": "independent"}},
 "layer": [
  {"data": {"name": "risk"}, "transform": [{"filter": "datum.p == 'B1' && datum.arm == 'CON' && datum.t == 0"}], "mark": {"type": "rect", "fillOpacity": 0, "stroke": "#b3b3b3", "strokeWidth": 1.5}, "encoding": {"x": {"datum": -1.1643, "axis": null}, "x2": {"datum": 5.3288}, "y": {"datum": 19.315, "axis": null}, "y2": {"datum": -10.1}}},
  {"data": {"name": "risk"}, "transform": [{"filter": "datum.p == 'B1' && datum.arm == 'CON' && datum.t == 0"}], "mark": {"type": "rule", "color": "#8a8a8a", "strokeWidth": 3}, "encoding": {"x": {"datum": 5.3288, "axis": null}, "y": {"datum": 19.315, "axis": null}, "y2": {"datum": -10.1}}},
  {"data": {"name": "risk"}, "transform": [{"filter": "datum.p == 'B1' && datum.arm == 'CON' && datum.t == 0"}], "mark": {"type": "rule", "color": "#8a8a8a", "strokeWidth": 3}, "encoding": {"x": {"datum": -1.1643, "axis": null}, "x2": {"datum": 5.3288}, "y": {"datum": -10.1, "axis": null}}},
  {"data": {"name": "band"}, "transform": [{"filter": "datum.p == 'B1'"}], "mark": {"type": "area", "interpolate": "linear", "color": "#dce6f2"},
   "encoding": {"x": {"field": "t", "type": "quantitative", "scale": {"domain": [-0.2221, 5.2102], "nice": false, "zero": false}, "axis": {"orient": "top", "title": "Severe Ischemia (N=2797)", "labels": false, "ticks": false, "domain": false, "titleX": 248.9, "titleY": -35.5, "titleAlign": "center", "titleBaseline": "alphabetic", "titleFontSize": 30, "titleFontWeight": "bold", "titleColor": "#000"}},
    "y": {"field": "lo", "type": "quantitative", "scale": {"domain": [-0.17, 18.13], "nice": false, "zero": false}, "axis": null}, "y2": {"field": "hi"}}},
  {"data": {"name": "km"}, "transform": [{"filter": "datum.p == 'B1'"}], "mark": {"type": "line", "interpolate": "step-after", "strokeWidth": 2.2},
   "encoding": {"x": {"field": "t", "type": "quantitative", "axis": {"orient": "bottom", "title": "Follow-up time (Years from Randomization)", "values": [0,1,2,3,4,5], "labelPadding": 9, "titlePadding": 17}},
    "y": {"field": "v", "type": "quantitative", "axis": {"orient": "left", "title": "Cumulative Incidence (%)", "values": [0,2,4,6,8,10,12,14,16,18], "labelPadding": 5, "titlePadding": 22}},
    "color": {"field": "arm", "type": "nominal", "scale": {"domain": ["CON","INV"], "range": ["#0000ff","#ff0000"]}, "legend": null}}},
  {"data": {"name": "risk"}, "transform": [{"filter": "datum.p == 'B1' && datum.arm == 'CON' && datum.t == 0"}], "mark": {"type": "text", "text": "Subjects at Risk", "align": "left", "baseline": "middle", "fontSize": 16, "fontWeight": "bold", "color": "#000"}, "encoding": {"x": {"datum": -0.2, "axis": null}, "y": {"datum": -5.61, "axis": null}}},
  {"data": {"name": "risk"}, "transform": [{"filter": "datum.p == 'B1' && datum.arm == 'CON'"}], "mark": {"type": "text", "align": "center", "baseline": "middle", "fontSize": 16, "color": "#0000ff"}, "encoding": {"x": {"field": "t", "type": "quantitative", "axis": null}, "y": {"datum": -7.11, "axis": null}, "text": {"field": "n", "type": "quantitative", "format": "d"}}},
  {"data": {"name": "risk"}, "transform": [{"filter": "datum.p == 'B1' && datum.arm == 'INV'"}], "mark": {"type": "text", "align": "center", "baseline": "middle", "fontSize": 16, "color": "#ff0000"}, "encoding": {"x": {"field": "t", "type": "quantitative", "axis": null}, "y": {"datum": -8.64, "axis": null}, "text": {"field": "n", "type": "quantitative", "format": "d"}}},
  {"data": {"name": "risk"}, "transform": [{"filter": "datum.p == 'B1' && datum.arm == 'CON' && datum.t == 0"}], "mark": {"type": "text", "align": "right", "baseline": "middle", "fontSize": 16, "color": "#0000ff"}, "encoding": {"x": {"datum": -0.54, "axis": null}, "y": {"datum": -7.11, "axis": null}, "text": {"field": "arm"}}},
  {"data": {"name": "risk"}, "transform": [{"filter": "datum.p == 'B1' && datum.arm == 'INV' && datum.t == 0"}], "mark": {"type": "text", "align": "right", "baseline": "middle", "fontSize": 16, "color": "#ff0000"}, "encoding": {"x": {"datum": -0.54, "axis": null}, "y": {"datum": -8.64, "axis": null}, "text": {"field": "arm"}}}
 ]
},
{
 "width": 521.2, "height": 281,
 "resolve": {"axis": {"x": "independent", "y": "independent"}},
 "layer": [
  {"data": {"name": "risk"}, "transform": [{"filter": "datum.p == 'B2' && datum.arm == 'CON' && datum.t == 0"}], "mark": {"type": "rect", "fillOpacity": 0, "stroke": "#b3b3b3", "strokeWidth": 1.5}, "encoding": {"x": {"datum": -1.1483, "axis": null}, "x2": {"datum": 5.3411}, "y": {"datum": 19.315, "axis": null}, "y2": {"datum": -10.1}}},
  {"data": {"name": "risk"}, "transform": [{"filter": "datum.p == 'B2' && datum.arm == 'CON' && datum.t == 0"}], "mark": {"type": "rule", "color": "#8a8a8a", "strokeWidth": 3}, "encoding": {"x": {"datum": 5.3411, "axis": null}, "y": {"datum": 19.315, "axis": null}, "y2": {"datum": -10.1}}},
  {"data": {"name": "risk"}, "transform": [{"filter": "datum.p == 'B2' && datum.arm == 'CON' && datum.t == 0"}], "mark": {"type": "rule", "color": "#8a8a8a", "strokeWidth": 3}, "encoding": {"x": {"datum": -1.1483, "axis": null}, "x2": {"datum": 5.3411}, "y": {"datum": -10.1, "axis": null}}},
  {"data": {"name": "band"}, "transform": [{"filter": "datum.p == 'B2'"}], "mark": {"type": "area", "interpolate": "linear", "color": "#dce6f2"},
   "encoding": {"x": {"field": "t", "type": "quantitative", "scale": {"domain": [-0.4402, 5.169], "nice": false, "zero": false}, "axis": {"orient": "top", "title": "Moderate Ischemia (N=1702)", "labels": false, "ticks": false, "domain": false, "titleX": 243.2, "titleY": -35.5, "titleAlign": "center", "titleBaseline": "alphabetic", "titleFontSize": 30, "titleFontWeight": "bold", "titleColor": "#000"}},
    "y": {"field": "lo", "type": "quantitative", "scale": {"domain": [-0.17, 18.13], "nice": false, "zero": false}, "axis": null}, "y2": {"field": "hi"}}},
  {"data": {"name": "risk"}, "transform": [{"filter": "datum.p == 'B2' && datum.arm == 'CON' && datum.t == 0"}], "mark": {"type": "rule", "color": "#000", "strokeWidth": 1.5}, "encoding": {"x": {"datum": -0.2131, "axis": null}, "x2": {"datum": 5.169}, "y": {"datum": -0.17, "axis": null}}},
  {"data": {"name": "km"}, "transform": [{"filter": "datum.p == 'B2'"}], "mark": {"type": "line", "interpolate": "step-after", "strokeWidth": 2.2},
   "encoding": {"x": {"field": "t", "type": "quantitative", "axis": {"orient": "bottom", "title": "Follow-up time (Years from Randomization)", "values": [0,1,2,3,4,5], "domain": false, "labelPadding": 9, "titlePadding": 17}},
    "y": {"field": "v", "type": "quantitative", "axis": {"orient": "left", "title": "Cumulative Incidence (%)", "values": [0,2,4,6,8,10,12,14,16,18], "offset": -21.1, "labelPadding": 5, "titlePadding": 22}},
    "color": {"field": "arm", "type": "nominal", "scale": {"domain": ["CON","INV"], "range": ["#0000ff","#ff0000"]}, "legend": null}}},
  {"data": {"name": "risk"}, "transform": [{"filter": "datum.p == 'B2' && datum.arm == 'CON' && datum.t == 0"}], "mark": {"type": "text", "text": "Subjects at Risk", "align": "left", "baseline": "middle", "fontSize": 16, "fontWeight": "bold", "color": "#000"}, "encoding": {"x": {"datum": -0.2, "axis": null}, "y": {"datum": -5.61, "axis": null}}},
  {"data": {"name": "risk"}, "transform": [{"filter": "datum.p == 'B2' && datum.arm == 'CON'"}], "mark": {"type": "text", "align": "center", "baseline": "middle", "fontSize": 16, "color": "#0000ff"}, "encoding": {"x": {"field": "t", "type": "quantitative", "axis": null}, "y": {"datum": -7.11, "axis": null}, "text": {"field": "n", "type": "quantitative", "format": "d"}}},
  {"data": {"name": "risk"}, "transform": [{"filter": "datum.p == 'B2' && datum.arm == 'INV'"}], "mark": {"type": "text", "align": "center", "baseline": "middle", "fontSize": 16, "color": "#ff0000"}, "encoding": {"x": {"field": "t", "type": "quantitative", "axis": null}, "y": {"datum": -8.64, "axis": null}, "text": {"field": "n", "type": "quantitative", "format": "d"}}},
  {"data": {"name": "risk"}, "transform": [{"filter": "datum.p == 'B2' && datum.arm == 'CON' && datum.t == 0"}], "mark": {"type": "text", "align": "right", "baseline": "middle", "fontSize": 16, "color": "#0000ff"}, "encoding": {"x": {"datum": -0.54, "axis": null}, "y": {"datum": -7.11, "axis": null}, "text": {"field": "arm"}}},
  {"data": {"name": "risk"}, "transform": [{"filter": "datum.p == 'B2' && datum.arm == 'INV' && datum.t == 0"}], "mark": {"type": "text", "align": "right", "baseline": "middle", "fontSize": 16, "color": "#ff0000"}, "encoding": {"x": {"datum": -0.54, "axis": null}, "y": {"datum": -8.64, "axis": null}, "text": {"field": "arm"}}}
 ]
},
{
 "width": 468.1, "height": 281,
 "resolve": {"axis": {"x": "independent", "y": "independent"}},
 "layer": [
  {"data": {"name": "risk"}, "transform": [{"filter": "datum.p == 'B3' && datum.arm == 'CON' && datum.t == 0"}], "mark": {"type": "rect", "fillOpacity": 0, "stroke": "#b3b3b3", "strokeWidth": 1.5}, "encoding": {"x": {"datum": -1.0714, "axis": null}, "x2": {"datum": 5.3274}, "y": {"datum": 19.315, "axis": null}, "y2": {"datum": -10.1}}},
  {"data": {"name": "risk"}, "transform": [{"filter": "datum.p == 'B3' && datum.arm == 'CON' && datum.t == 0"}], "mark": {"type": "rule", "color": "#8a8a8a", "strokeWidth": 3}, "encoding": {"x": {"datum": 5.3274, "axis": null}, "y": {"datum": 19.315, "axis": null}, "y2": {"datum": -10.1}}},
  {"data": {"name": "risk"}, "transform": [{"filter": "datum.p == 'B3' && datum.arm == 'CON' && datum.t == 0"}], "mark": {"type": "rule", "color": "#8a8a8a", "strokeWidth": 3}, "encoding": {"x": {"datum": -1.0714, "axis": null}, "x2": {"datum": 5.3274}, "y": {"datum": -10.1, "axis": null}}},
  {"data": {"name": "band"}, "transform": [{"filter": "datum.p == 'B3'"}], "mark": {"type": "area", "interpolate": "step-after", "color": "#dce6f2"},
   "encoding": {"x": {"field": "t", "type": "quantitative", "scale": {"domain": [-0.3524, 5.2202], "nice": false, "zero": false}, "axis": {"orient": "top", "title": "Mild/No Ischemia (N=606)", "labels": false, "ticks": false, "domain": false, "titleX": 224.1, "titleY": -35.5, "titleAlign": "center", "titleBaseline": "alphabetic", "titleFontSize": 30, "titleFontWeight": "bold", "titleColor": "#000"}},
    "y": {"field": "lo", "type": "quantitative", "scale": {"domain": [-0.17, 18.13], "nice": false, "zero": false}, "axis": null}, "y2": {"field": "hi"}}},
  {"data": {"name": "risk"}, "transform": [{"filter": "datum.p == 'B3' && datum.arm == 'CON' && datum.t == 0"}], "mark": {"type": "rule", "color": "#000", "strokeWidth": 1.5}, "encoding": {"x": {"datum": -0.2131, "axis": null}, "x2": {"datum": 5.2202}, "y": {"datum": -0.17, "axis": null}}},
  {"data": {"name": "km"}, "transform": [{"filter": "datum.p == 'B3'"}], "mark": {"type": "line", "interpolate": "step-after", "strokeWidth": 2.2},
   "encoding": {"x": {"field": "t", "type": "quantitative", "axis": {"orient": "bottom", "title": "Follow-up time (Years from Randomization)", "values": [0,1,2,3,4,5], "domain": false, "labelPadding": 9, "titlePadding": 17}},
    "y": {"field": "v", "type": "quantitative", "axis": {"orient": "left", "title": "Cumulative Incidence (%)", "values": [0,2,4,6,8,10,12,14,16,18], "offset": -11.7, "labelPadding": 5, "titlePadding": 22}},
    "color": {"field": "arm", "type": "nominal", "scale": {"domain": ["CON","INV"], "range": ["#0000ff","#ff0000"]}, "legend": null}}},
  {"data": {"name": "risk"}, "transform": [{"filter": "datum.p == 'B3' && datum.arm == 'CON' && datum.t == 0"}], "mark": {"type": "text", "text": "Subjects at Risk", "align": "left", "baseline": "middle", "fontSize": 16, "fontWeight": "bold", "color": "#000"}, "encoding": {"x": {"datum": -0.2, "axis": null}, "y": {"datum": -5.61, "axis": null}}},
  {"data": {"name": "risk"}, "transform": [{"filter": "datum.p == 'B3' && datum.arm == 'CON'"}], "mark": {"type": "text", "align": "center", "baseline": "middle", "fontSize": 16, "color": "#0000ff"}, "encoding": {"x": {"field": "t", "type": "quantitative", "axis": null}, "y": {"datum": -7.11, "axis": null}, "text": {"field": "n", "type": "quantitative", "format": "d"}}},
  {"data": {"name": "risk"}, "transform": [{"filter": "datum.p == 'B3' && datum.arm == 'INV'"}], "mark": {"type": "text", "align": "center", "baseline": "middle", "fontSize": 16, "color": "#ff0000"}, "encoding": {"x": {"field": "t", "type": "quantitative", "axis": null}, "y": {"datum": -8.64, "axis": null}, "text": {"field": "n", "type": "quantitative", "format": "d"}}},
  {"data": {"name": "risk"}, "transform": [{"filter": "datum.p == 'B3' && datum.arm == 'CON' && datum.t == 0"}], "mark": {"type": "text", "align": "right", "baseline": "middle", "fontSize": 16, "color": "#0000ff"}, "encoding": {"x": {"datum": -0.54, "axis": null}, "y": {"datum": -7.11, "axis": null}, "text": {"field": "arm"}}},
  {"data": {"name": "risk"}, "transform": [{"filter": "datum.p == 'B3' && datum.arm == 'INV' && datum.t == 0"}], "mark": {"type": "text", "align": "right", "baseline": "middle", "fontSize": 16, "color": "#ff0000"}, "encoding": {"x": {"datum": -0.54, "axis": null}, "y": {"datum": -8.64, "axis": null}, "text": {"field": "arm"}}}
 ]
}
],
"columns": 3,
"spacing": {"row": 289.4, "column": 97.8},
"align": "none",
"bounds": "flush"
}
